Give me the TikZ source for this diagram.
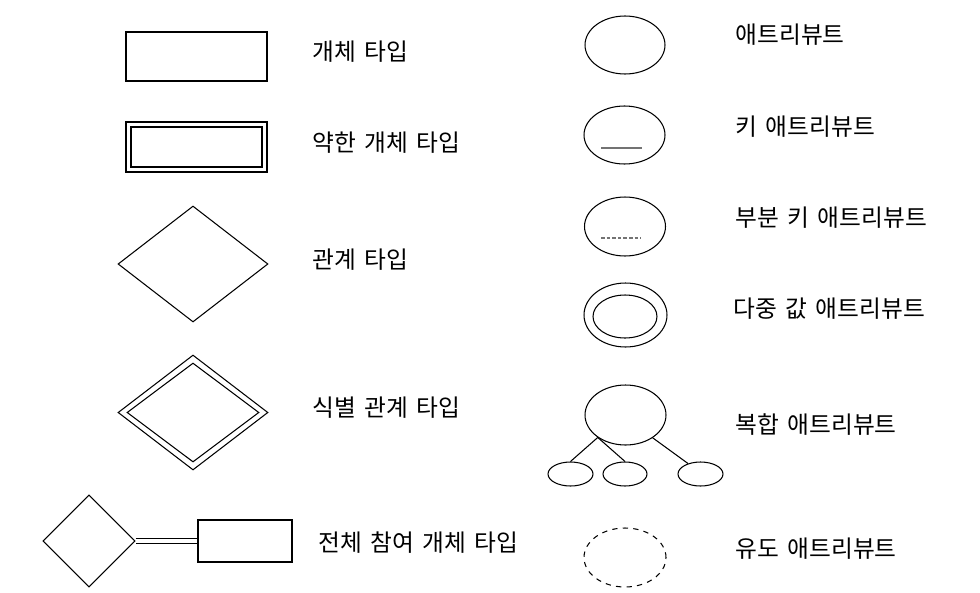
\documentclass[tikz,border=0pt]{standalone}
\usepackage{fontspec}
\setmainfont[WordSpace=1.6]{Noto Sans CJK KR}
\usepackage{tikz}
\usetikzlibrary{shapes.geometric}
\usetikzlibrary{positioning}
\usetikzlibrary{fadings}
\tikzfading[name=sidefade, left color=transparent!100, middle color=transparent!0, right color=transparent!100]
\tikzset{
entity/.style 2 args={draw, rectangle, inner sep=0pt, minimum width=#1, minimum height=#2},
relation/.style 2 args={draw, diamond, inner sep=0pt, minimum width=#1, minimum height=#2},
attrib/.style 2 args={draw, ellipse, inner sep=0pt, minimum width=#1, minimum height=#2},
caption/.style={anchor=west, inner sep=0pt, font=\fontsize{13.5}{16}\selectfont},
}

\begin{document}
\begin{tikzpicture}[x=0.02cm, y=-0.02cm, line width=0.6pt]
\useasboundingbox (0,0) rectangle (980,592);
\shade[top color=white, bottom color=black!6, path fading=sidefade] (110,570) rectangle (880,592);

%
\node[entity={2.82cm}{0.98cm}] (ent) at (196.5,56.5) {};
\node[entity={2.82cm}{1cm}] (weak) at (196.5,147) {};
\node[entity={2.62cm}{0.8cm}] (weakin) at (weak) {};
\node[relation={3cm}{2.32cm}] (rel) at (193,264) {};
\node[relation={3cm}{2.3cm}] (idrel) at (193,412.5) {};
\node[relation={2.64cm}{1.98cm}] (idrelin) at (idrel) {};
\node[relation={1.84cm}{1.84cm}] (tdia) at (89,541) {};
\node[entity={1.88cm}{0.84cm}] (tent) at (245,541) {};
\draw[double, double distance=1.9pt] (tdia.east) to (tent.west);

%
\node[caption] (entL) at (312,52) {개체 타입};
\node[caption] (weakL) at (312,143) {약한 개체 타입};
\node[caption] (relL) at (312,260) {관계 타입};
\node[caption] (idrelL) at (312,408) {식별 관계 타입};
\node[caption] (tentL) at (318,543) {전체 참여 개체 타입};

%
\node[attrib={1.6cm}{1.16cm}] (att) at (625,45) {};
\node[attrib={1.62cm}{1.16cm}] (key) at (624.5,135) {};
\draw[black!55] (key.center) ++(-23.5,13) -- ++(41,0);
\node[attrib={1.62cm}{1.18cm}] (pkey) at (625,226.5) {};
\draw[black!55, dash pattern=on 2pt off 1.2pt] (pkey.center) ++(-24,11.5) -- ++(40,0);
\node[attrib={1.66cm}{1.28cm}] (multi) at (625.5,315) {};
\node[attrib={1.28cm}{0.86cm}] (multiin) at (625,316.5) {};
\node[attrib={1.62cm}{1.2cm}] (comp) at (625.5,415) {};
\node[attrib={0.9cm}{0.48cm}] (c1) at (570.5,474) {};
\node[attrib={0.88cm}{0.48cm}] (c2) at (625,474) {};
\node[attrib={0.9cm}{0.48cm}] (c3) at (700.5,474) {};
\draw (comp.219) to (c1.north);
\draw (comp.219) to (c2.north);
\draw (comp.320) to (c3.140);
\node[attrib={1.64cm}{1.18cm}, dashed] (der) at (625,557.5) {};

%
\node[caption] (attL) at (735,35) {애트리뷰트};
\node[caption] (keyL) at (735,127) {키 애트리뷰트};
\node[caption] (pkeyL) at (735,218) {부분 키 애트리뷰트};
\node[caption] (multiL) at (733,309) {다중 값 애트리뷰트};
\node[caption] (compL) at (735,425) {복합 애트리뷰트};
\node[caption] (derL) at (735,549) {유도 애트리뷰트};
\end{tikzpicture}
\end{document}
